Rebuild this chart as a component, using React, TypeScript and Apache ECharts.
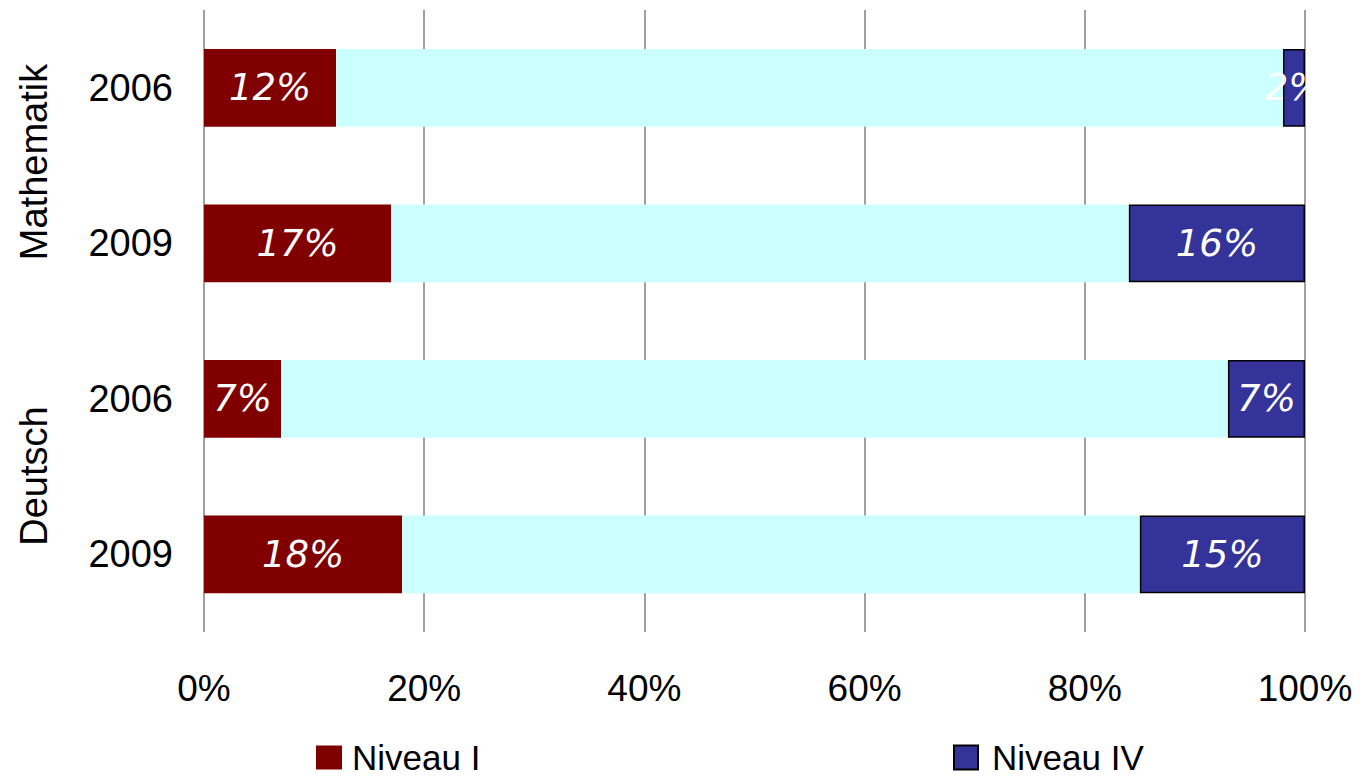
import React, { useEffect, useRef } from "react";
import * as echarts from "echarts";

const categories = ["Mathematik 2006", "Mathematik 2009", "Deutsch 2006", "Deutsch 2009"];
const niveauI = [12, 17, 7, 18];
const niveauMid = [86, 67, 86, 67];
const niveauIV = [2, 16, 7, 15];
const xTicks = [0, 20, 40, 60, 80, 100];

export default function App() {
  const ref = useRef<HTMLDivElement>(null);
  useEffect(() => {
    document.body.style.margin = "0";
    if (!ref.current) return;
    const chart = echarts.init(ref.current, null, { renderer: "svg" });
    const labelStyle = {
      show: true,
      position: "inside",
      color: "#ffffff",
      fontStyle: "italic",
      fontFamily: "DejaVu Sans",
      fontSize: 37,
      formatter: (p: any) => p.value + "%",
    };
    chart.setOption({
      animation: false,
      backgroundColor: "#ffffff",
      grid: { left: 204, right: 55, top: 10, bottom: 144, containLabel: false },
      xAxis: {
        type: "value",
        min: 0,
        max: 100,
        interval: 20,
        axisLine: { show: false },
        axisTick: { show: false },
        splitLine: { show: true, lineStyle: { color: "#808080", width: 1.5 } },
        axisLabel: {
          formatter: (v: number) => (xTicks.includes(v) ? v + "%" : ""),
          fontFamily: "Liberation Sans",
          fontSize: 37,
          color: "#000000",
          margin: 38,
        },
      },
      yAxis: {
        type: "category",
        inverse: true,
        data: categories,
        axisLine: { show: false },
        axisTick: { show: false },
        axisLabel: {
          formatter: (v: string) => v.split(" ")[1],
          fontFamily: "Liberation Sans",
          fontSize: 38,
          color: "#000000",
          margin: 31,
        },
      },
      legend: [
        {
          data: [{ name: "Niveau I", icon: "rect" }],
          left: 316,
          top: 740,
          padding: 0,
          itemWidth: 26,
          itemHeight: 24,
          textStyle: { fontFamily: "Liberation Sans", fontSize: 35, lineHeight: 30, color: "#000", padding: [0, 0, 0, 5] },
        },
        {
          data: [{ name: "Niveau IV", icon: "rect" }],
          left: 953,
          top: 740,
          padding: 0,
          itemWidth: 24,
          itemHeight: 24,
          textStyle: { fontFamily: "Liberation Sans", fontSize: 35, lineHeight: 30, color: "#000", padding: [0, 0, 0, 9] },
        },
      ],
      series: [
        {
          name: "Niveau I",
          type: "bar",
          stack: "total",
          barWidth: "50%",
          data: niveauI,
          itemStyle: { color: "#800000" },
          label: labelStyle,
        },
        {
          name: "Niveau II/III",
          type: "bar",
          stack: "total",
          barWidth: "50%",
          data: niveauMid,
          itemStyle: { color: "#CCFFFF" },
          label: { show: false },
        },
        {
          name: "Niveau IV",
          type: "bar",
          stack: "total",
          barWidth: "50%",
          data: niveauIV,
          itemStyle: { color: "#333399", borderColor: "#000000", borderWidth: 1.5 },
          label: labelStyle,
        },
      ],
      graphic: [
        {
          type: "rect",
          shape: { x: 1306, y: 0, width: 54, height: 640 },
          style: { fill: "#ffffff" },
          z: 100,
        },
        {
          type: "text",
          x: 34,
          y: 162,
          rotation: Math.PI / 2,
          style: {
            text: "Mathematik",
            fontFamily: "Liberation Sans",
            fontSize: 38,
            fill: "#000000",
            textAlign: "center",
            textVerticalAlign: "middle",
          },
        },
        {
          type: "text",
          x: 34,
          y: 476,
          rotation: Math.PI / 2,
          style: {
            text: "Deutsch",
            fontFamily: "Liberation Sans",
            fontSize: 38,
            fill: "#000000",
            textAlign: "center",
            textVerticalAlign: "middle",
          },
        },
      ],
    });
    return () => chart.dispose();
  }, []);
  return <div ref={ref} style={{ width: 1360, height: 776 }} />;
}
